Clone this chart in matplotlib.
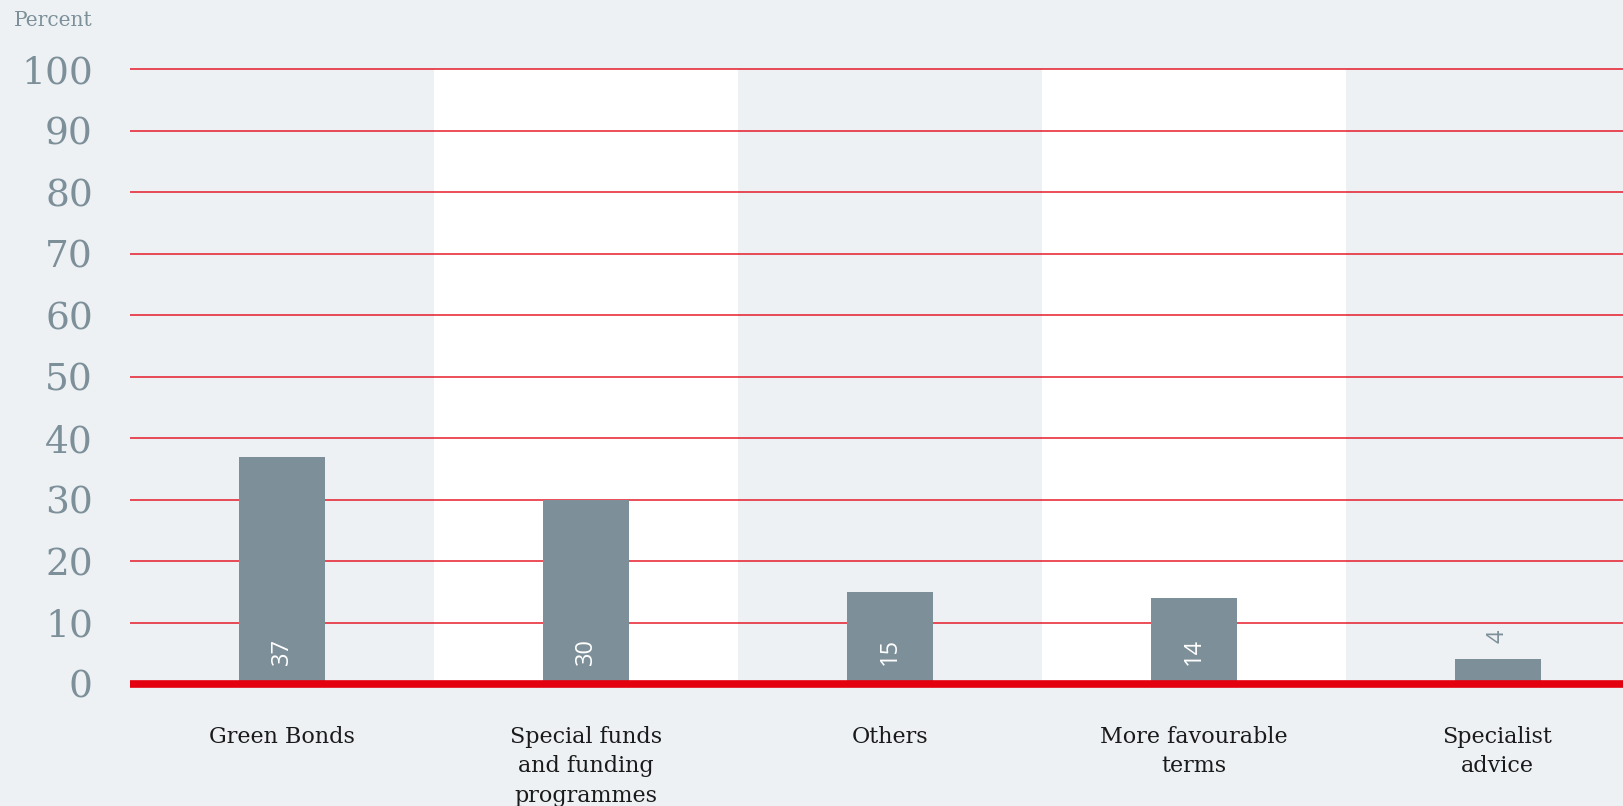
import matplotlib.pyplot as plt

categories = ['Green Bonds', 'Special funds\nand funding\nprogrammes', 'Others',
              'More favourable\nterms', 'Specialist\nadvice']
values = [37, 30, 15, 14, 4]
y_ticks = [0, 10, 20, 30, 40, 50, 60, 70, 80, 90, 100]

bg = '#edf1f4'
bar_col = '#7d9099'
red = '#e3000f'

fig = plt.figure(figsize=(16.23, 8.06), dpi=100, facecolor=bg)
ax = fig.add_axes([0.0803, 0.1514, 0.936, 0.7625])
ax.set_facecolor(bg)

# alternating white bands
for i in range(len(categories)):
    if i % 2 == 1:
        ax.axvspan(i - 0.5, i + 0.5, color='white', zorder=0, lw=0)

for y in y_ticks[1:]:
    ax.axhline(y, color=red, lw=1.3, alpha=0.75, zorder=1, clip_on=False,
               solid_capstyle='butt')

x = list(range(len(categories)))
ax.bar(x, values, width=0.283, color=bar_col, zorder=2)
ax.axhline(0, color=red, lw=5.5, zorder=3, clip_on=False, solid_capstyle='butt')

for i, v in enumerate(values):
    if v >= 10:
        ax.text(i, 5.3, str(v), rotation=90, ha='center', va='center',
                color='white', fontsize=17, family='Open Sans', zorder=4)
    else:
        ax.text(i, v + 3.7, str(v), rotation=90, ha='center', va='center',
                color=bar_col, fontsize=17, family='Open Sans', zorder=4)

ax.set_xlim(-0.5, 4.5)
ax.set_ylim(0, 100)
ax.set_yticks(y_ticks)
ax.set_yticklabels([str(t) for t in y_ticks], family='DejaVu Serif',
                   fontsize=27, color=bar_col)
ax.tick_params(axis='y', length=0, pad=27)
ax.set_xticks([])
for s in ax.spines.values():
    s.set_visible(False)

for i, c in enumerate(categories):
    ax.text(i, -6.8, c, ha='center', va='top', fontsize=16,
            family='DejaVu Serif', color='#1a1a1a', linespacing=1.45)

fig.text(0.0086, 0.974, 'Percent', family='DejaVu Serif', fontsize=14.5,
         color=bar_col, ha='left', va='center')

fig.savefig('out.png', dpi=100, facecolor=bg)
